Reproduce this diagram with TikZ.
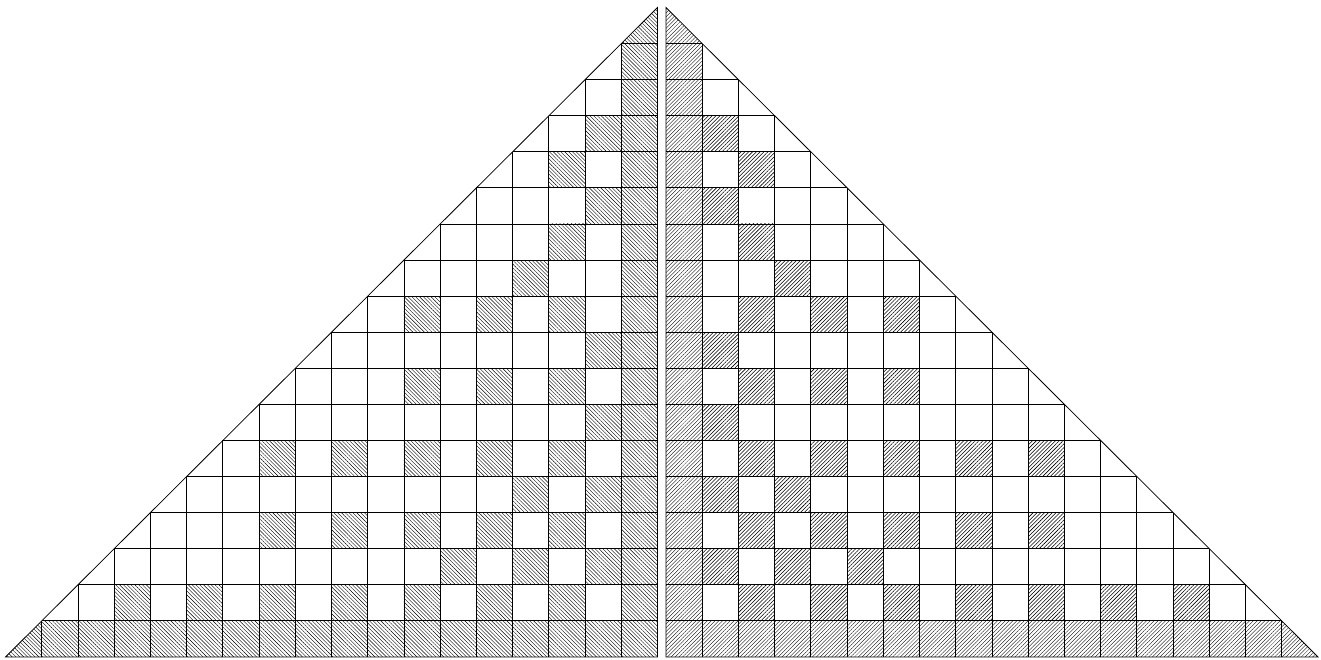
\documentclass[tikz,border=0pt]{standalone}
\usetikzlibrary{patterns.meta}
\tikzset{
  gridline/.style={draw=black,line width=0.8pt,line join=miter},
  hatchL/.style={pattern={Lines[angle=-45,distance=2.7pt,line width=0.4pt]}},
  hatchR/.style={pattern={Lines[angle=45,distance=2.7pt,line width=0.35pt]}},
  hatchRin/.style={pattern={Lines[angle=45,distance=2.7pt,line width=0.55pt]}}
}
\def\sx{36.22}
\def\sy{36.08}
\def\yo{7.5}
% #1 = x of vertical edge, #2 = direction sign, #3 = edge hatch, #4 = interior hatch
\newcommand{\halftri}[4]{%
  \fill[#3] (#1,\yo) -- (#1,{\yo+\sy}) -- ({#1+#2*\sx},{\yo+\sy}) -- cycle;
  \fill[#3] (#1,{\yo+\sy}) rectangle ({#1+#2*\sx},{\yo+18*\sy});
  \fill[#3] ({#1+#2*\sx},{\yo+17*\sy}) rectangle ({#1+#2*17*\sx},{\yo+18*\sy});
  \fill[#3] ({#1+#2*17*\sx},{\yo+17*\sy}) -- ({#1+#2*17*\sx},{\yo+18*\sy}) -- ({#1+#2*18*\sx},{\yo+18*\sy}) -- cycle;
  \foreach \r/\c in {3/1,4/2,5/1,6/2,7/3,8/2,8/4,8/6,9/1,10/2,10/4,10/6,11/1,
      12/2,12/4,12/6,12/8,12/10,13/1,13/3,14/2,14/4,14/6,14/8,14/10,15/1,15/3,15/5,
      16/2,16/4,16/6,16/8,16/10,16/12,16/14}
    \fill[#4] ({#1+#2*\c*\sx},{\yo+\r*\sy}) rectangle ({#1+#2*(\c+1)*\sx},{\yo+(\r+1)*\sy});
  \foreach \r in {1,...,17}
    \draw[gridline] (#1,{\yo+\r*\sy}) -- ({#1+#2*\r*\sx},{\yo+\r*\sy});
  \foreach \c in {1,...,17}
    \draw[gridline] ({#1+#2*\c*\sx},{\yo+\c*\sy}) -- ({#1+#2*\c*\sx},{\yo+18*\sy});
  \draw[gridline] (#1,\yo) -- (#1,{\yo+18*\sy}) -- ({#1+#2*18*\sx},{\yo+18*\sy}) -- cycle;
}
\begin{document}
\begin{tikzpicture}[x=1pt,y=-1pt]
  \useasboundingbox (0,0) rectangle (1321,660);
  \fill[white] (0,0) rectangle (1321,660);
  \halftri{657.5}{(-1)}{hatchL}{hatchL}
  \halftri{666}{(1)}{hatchR}{hatchRin}
\end{tikzpicture}
\end{document}
